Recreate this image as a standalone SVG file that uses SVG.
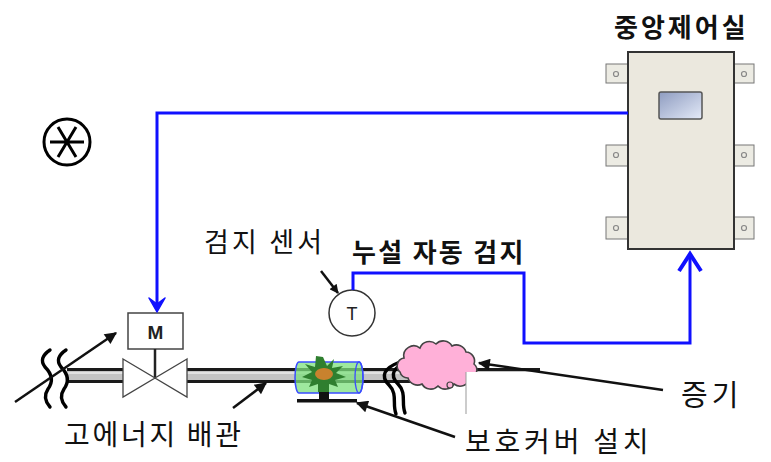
<svg xmlns="http://www.w3.org/2000/svg" width="771" height="462" viewBox="0 0 771 462">
  <style>
    .kr { font-family: "Noto Sans CJK KR", "Noto Sans", sans-serif; fill: #111; }
    .bold { font-weight: 700; }
    .lat { font-family: "Liberation Sans", Arial, sans-serif; fill: #222; }
    .sig { fill: none; stroke: #1010ff; stroke-width: 3; stroke-linejoin: miter; }
    .ptr { fill: none; stroke: #111; stroke-width: 2.5; }
    .brk { fill: none; stroke: #000; stroke-width: 3.4; stroke-linecap: round; }
    .tab { fill: #ecebe3; stroke: #777; stroke-width: 1; }
    .bolt { fill: none; stroke: #888; stroke-width: 1.2; }
    .pipeEdge { fill: #1a1a1a; }
    .pipeCore { fill: #c4c4c4; }
  </style>
  <defs>
    <marker id="ah" viewBox="0 0 10 10" refX="9" refY="5" markerUnits="userSpaceOnUse" markerWidth="16" markerHeight="12" orient="auto">
      <path d="M0,0 L10,5 L0,10 z" fill="#111"/>
    </marker>
    <marker id="ahs" viewBox="0 0 10 10" refX="9" refY="5" markerUnits="userSpaceOnUse" markerWidth="11" markerHeight="9" orient="auto">
      <path d="M0,0 L10,5 L0,10 z" fill="#111"/>
    </marker>
    <linearGradient id="glass" x1="0" y1="0" x2="1" y2="1">
      <stop offset="0" stop-color="#8e9cc0"/>
      <stop offset="1" stop-color="#e4eaf8"/>
    </linearGradient>
  </defs>

  <!-- encircled asterisk mark -->
  <g id="mark">
    <circle cx="67" cy="142" r="23" fill="none" stroke="#000" stroke-width="3"/>
    <path d="M50,142 H84 M58,127 L76,157 M76,127 L58,157" fill="none" stroke="#000" stroke-width="3"/>
  </g>

  <!-- central control room panel -->
  <g id="control-room">
    <text class="kr bold" x="614" y="37" font-size="26" letter-spacing="3">중앙제어실</text>
    <rect class="tab" x="606" y="64" width="22" height="19"/>
    <rect class="tab" x="606" y="145" width="22" height="21"/>
    <rect class="tab" x="606" y="217" width="22" height="22"/>
    <rect class="tab" x="734" y="64" width="20" height="19"/>
    <rect class="tab" x="734" y="145" width="20" height="21"/>
    <rect class="tab" x="734" y="217" width="20" height="22"/>
    <circle class="bolt" cx="616" cy="74" r="2.5"/>
    <circle class="bolt" cx="616" cy="155" r="2.5"/>
    <circle class="bolt" cx="616" cy="228" r="2.5"/>
    <circle class="bolt" cx="744" cy="74" r="2.5"/>
    <circle class="bolt" cx="744" cy="155" r="2.5"/>
    <circle class="bolt" cx="744" cy="228" r="2.5"/>
    <rect x="628" y="52" width="106" height="197" fill="#ebe8de" stroke="#333" stroke-width="2"/>
    <rect x="659" y="92" width="43" height="27" rx="2" fill="url(#glass)" stroke="#555" stroke-width="1.5"/>
  </g>

  <!-- high-energy pipe -->
  <g id="pipe">
    <rect class="pipeEdge" x="67" y="368" width="56" height="15"/>
    <rect class="pipeCore" x="67" y="371" width="56" height="9"/>
    <rect class="pipeEdge" x="187" y="368" width="353" height="15"/>
    <rect class="pipeCore" x="187" y="371" width="353" height="9"/>
    <rect x="67" y="372" width="473" height="2" fill="#e2e2e2"/>
    <rect x="123" y="372" width="64" height="2" fill="#fff"/>
  </g>

  <!-- motor operated valve -->
  <g id="valve">
    <rect x="128" y="313" width="55" height="36" fill="#fff" stroke="#444" stroke-width="1.5"/>
    <text class="lat" x="155.5" y="339" font-size="19" font-weight="700" text-anchor="middle">M</text>
    <line x1="155" y1="349" x2="155" y2="378" stroke="#222" stroke-width="2.5"/>
    <path d="M123,359 L155,378 L123,397 Z M187,359 L155,378 L187,397 Z" fill="#fff" stroke="#444" stroke-width="1.3"/>
  </g>

  <!-- pipe break marks -->
  <g id="breaks">
    <path class="brk" d="M50,350 Q38,358 45,367 Q56,378 48,389 Q42,398 50,407"/>
    <path class="brk" d="M66,350 Q54,358 61,367 Q72,378 64,389 Q58,398 66,407"/>
    <path class="brk" d="M400,362 C384,368 380,376 389,385 C398,394 392,404 396,414"/>
    <path class="brk" d="M409,361 C393,367 389,375 398,384 C407,393 401,403 405,413"/>
  </g>

  <!-- protective cover -->
  <g id="cover">
    <path d="M299,362 H359 A4,15.5 0 0 1 359,393 H299 A4,15.5 0 0 1 299,362 Z" fill="#7ee07e" fill-opacity="0.75" stroke="#3a4cff" stroke-width="1.5"/>
    <ellipse cx="359" cy="377.5" rx="4" ry="15.5" fill="none" stroke="#3a4cff" stroke-width="1.3"/>
    <path d="M323,357 L327,366 L334,359 L332,368 L343,366 L336,373 L346,377 L335,380 L338,387 L329,384 L329,392 L318,392 L318,384 L309,387 L312,380 L302,377 L312,372 L305,364 L315,367 L316,356 Z" fill="#2f7f2f"/>
    <ellipse cx="324" cy="374" rx="9" ry="6" fill="#c8822e"/>
    <rect x="319" y="392" width="10" height="8" fill="#111"/>
    <rect x="297" y="399" width="60" height="3.5" fill="#111"/>
  </g>

  <!-- leaking steam -->
  <g id="steam">
    <path d="M400,372 a8,8 0 0 1 4,-14 a10,10 0 0 1 16,-10 a10,10 0 0 1 16,-4 a10,10 0 0 1 16,2 a10,10 0 0 1 14,6 a9,9 0 0 1 8,12 a8,8 0 0 1 -4,14 a10,10 0 0 1 -16,6 a10,10 0 0 1 -16,2 a10,10 0 0 1 -16,-2 a10,10 0 0 1 -14,-6 a8,8 0 0 1 -8,-6 z" fill="#ffb0d8" stroke="#444" stroke-width="1.6"/>
    <circle cx="450" cy="385" r="3" fill="#ffb0d8" stroke="#444" stroke-width="1.2"/>
    <rect x="466" y="372" width="80" height="42" fill="#fff"/>
    <line x1="466" y1="372" x2="466" y2="414" stroke="#999" stroke-width="1"/>
  </g>

  <!-- leak detection sensor -->
  <g id="sensor">
    <circle cx="352" cy="313" r="23" fill="#fff" stroke="#333" stroke-width="1.5"/>
    <text class="lat" x="352" y="320" font-size="18" text-anchor="middle">T</text>
  </g>

  <!-- connectors -->
  <g id="connectors">
    <path class="sig" d="M628,113 H157 V308"/>
    <path d="M149,298 L157,312 L165,298 L157,304 Z" fill="#1010ff" stroke="#1010ff" stroke-width="1.5" stroke-linejoin="round"/>
    <path class="sig" d="M353,290 V273 H524 V343 H690 V256"/>
    <path d="M679,271 L690,254 L701,271" fill="none" stroke="#1010ff" stroke-width="4"/>
    <line class="ptr" x1="15" y1="402" x2="116" y2="333" marker-end="url(#ah)"/>
    <line class="ptr" x1="233" y1="408" x2="266" y2="383" marker-end="url(#ah)"/>
    <line class="ptr" x1="321" y1="271" x2="338" y2="293" stroke-width="2" marker-end="url(#ahs)"/>
    <line class="ptr" x1="455" y1="437" x2="357" y2="403" marker-end="url(#ah)"/>
    <line class="ptr" x1="663" y1="390" x2="479" y2="363" marker-end="url(#ah)"/>
  </g>

  <!-- labels -->
  <g id="labels">
    <text class="kr" x="64" y="445" font-size="28" letter-spacing="2.7">고에너지 배관</text>
    <text class="kr" x="204" y="252" font-size="27" letter-spacing="3.2">검지 센서</text>
    <text class="kr bold" x="352" y="262" font-size="26" letter-spacing="2.3">누설 자동 검지</text>
    <text class="kr" x="465" y="452" font-size="28" letter-spacing="3.8">보호커버 설치</text>
    <text class="kr" x="681" y="406" font-size="29" letter-spacing="4">증기</text>
  </g>
</svg>
